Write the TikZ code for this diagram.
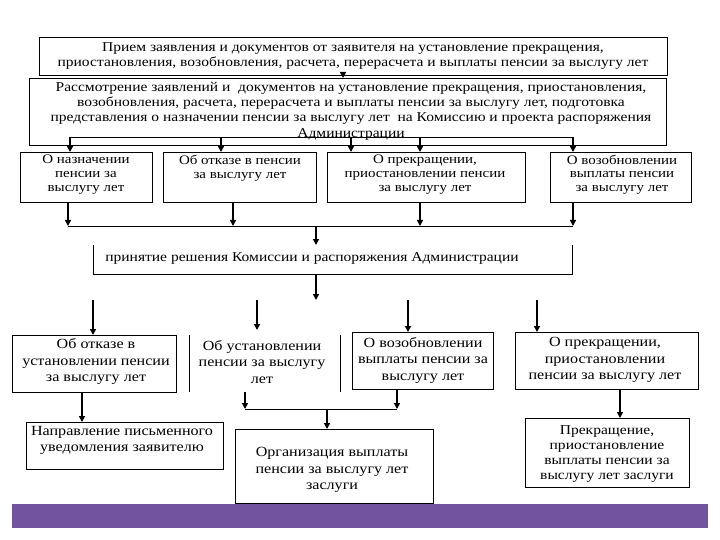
\documentclass[tikz,border=0pt]{standalone}
\usepackage{fontspec}
\setmainfont{Liberation Serif}[FakeStretch=1.15]
\usetikzlibrary{arrows.meta}
\definecolor{barpurple}{RGB}{113,83,160}
\begin{document}
\begin{tikzpicture}[x=1pt,y=-1pt,
  box/.style={draw, line width=0.9pt, inner sep=0pt, anchor=north west},
  txt/.style={align=center, inner sep=0pt, font=\fontsize{13.5}{15.3}\selectfont},
  txtb/.style={align=center, inner sep=0pt, font=\fontsize{13}{13.6}\selectfont},
  txtc/.style={align=center, inner sep=0pt, font=\fontsize{14}{16.5}\selectfont},
  arr/.style={line width=1.5pt, -{Triangle[length=6pt,width=6pt]}},
  ln/.style={line width=0.9pt}]
\path[use as bounding box] (0,0) rectangle (720,540);
\fill[white] (0,0) rectangle (720,540);

% top boxes
\node[box, minimum width=628pt, minimum height=38pt] (b1) at (39,37) {};
\node[txt] (t1) at (353,56) {Прием заявления и документов от заявителя на установление прекращения,\\приостановления, возобновления, расчета, перерасчета и выплаты пенсии за выслугу лет};
\node[box, minimum width=637pt, minimum height=67pt] (b2) at (29,78) {};
\node[txt] (t2) at (351,111) {Рассмотрение заявлений и \ документов на установление прекращения, приостановления,\\возобновления, расчета, перерасчета и выплаты пенсии за выслугу лет, подготовка\\представления о назначении пенсии за выслугу лет \ на Комиссию и проекта распоряжения\\Администрации};
\coordinate (a12) at (343,75);
\draw[arr] (a12) -- (a12 |- b2.north);

% bus inside box 2
\coordinate (s1) at (70,137);
\coordinate (s2) at (221,137);
\coordinate (s3) at (351,137);
\coordinate (s4) at (420,137);
\coordinate (s5) at (573,137);
\draw[ln] (s1) -- (s5);

% row 2
\node[box, minimum width=132pt, minimum height=50pt] (rA) at (20,152) {};
\node[box, minimum width=153pt, minimum height=50pt] (rB) at (163,152) {};
\node[box, minimum width=198pt, minimum height=50pt] (rC) at (327,152) {};
\node[box, minimum width=141pt, minimum height=50pt] (rD) at (550,152) {};
\node[txtb] (tA) at (86,174.5) {О назначении\\пенсии за\\выслугу лет};
\node[txtb] (tB) at (240,168) {Об отказе в пенсии\\за выслугу лет};
\node[txtb] (tC) at (425,174.5) {О прекращении,\\приостановлении пенсии\\за выслугу лет};
\node[txtb] (tD) at (622,174.5) {О возобновлении\\выплаты пенсии\\за выслугу лет};
\draw[arr] (s1) -- (s1 |- rA.north);
\draw[arr] (s2) -- (s2 |- rB.north);
\draw[arr] (s3) -- (s3 |- rC.north);
\draw[arr] (s4) -- (s4 |- rC.north);
\draw[arr] (s5) -- (s5 |- rD.north);

% bus below row 2
\coordinate (u1) at (68,226);
\coordinate (u2) at (233,226);
\coordinate (u3) at (420,226);
\coordinate (u4) at (573,226);
\coordinate (um) at (316,226);
\draw[ln] (u1) -- (u4);
\draw[arr] (u1 |- rA.south) -- (u1);
\draw[arr] (u2 |- rB.south) -- (u2);
\draw[arr] (u3 |- rC.south) -- (u3);
\draw[arr] (u4 |- rD.south) -- (u4);

% decision (open-top box)
\coordinate (mTL) at (93,245);
\coordinate (mBL) at (93,274);
\coordinate (mBR) at (572,274);
\coordinate (mTR) at (572,245);
\draw[ln] (mTL) -- (mBL) -- (mBR) -- (mTR);
\node[txt] (tM) at (312,258) {принятие решения Комиссии и распоряжения Администрации};
\draw[arr] (um) -- (um |- mTL);
\coordinate (mOut) at (316,300);
\draw[arr] (mOut |- mBL) -- (mOut);

% row 3
\node[box, minimum width=164pt, minimum height=57pt] (rE) at (12,335) {};
\coordinate (fTL) at (189,335);
\coordinate (fBL) at (189,392);
\coordinate (fTR) at (340,335);
\coordinate (fBR) at (340,392);
\draw[ln] (fTL) -- (fBL);
\draw[ln] (fTR) -- (fBR);
\node[box, minimum width=141pt, minimum height=57pt] (rG) at (352,332) {};
\node[box, minimum width=183pt, minimum height=57pt] (rH) at (515,332) {};
\node[txtc] (tE) at (96,361.5) {Об отказе в\\установлении пенсии\\за выслугу лет};
\node[txtc] (tF) at (262,362) {Об установлении\\пенсии за выслугу\\лет};
\node[txtc] (tG) at (423,360) {О возобновлении\\выплаты пенсии за\\выслугу лет};
\node[txtc] (tH) at (605,360) {О прекращении,\\приостановлении\\пенсии за выслугу лет};
\coordinate (d1) at (93,300);
\coordinate (d2) at (257,300);
\coordinate (d3) at (408,300);
\coordinate (d4) at (537,300);
\draw[arr] (d1) -- (d1 |- rE.north);
\draw[arr] (d2) -- (257,330);
\draw[arr] (d3) -- (d3 |- rG.north);
\draw[arr] (d4) -- (d4 |- rH.north);

% row 4
\node[box, minimum width=197pt, minimum height=47pt] (rI) at (26,422) {};
\node[box, minimum width=198pt, minimum height=74pt] (rJ) at (235,429) {};
\node[box, minimum width=164pt, minimum height=69pt] (rK) at (525,418) {};
\node[txtc] (tI) at (122,440.5) {Направление письменного\\уведомления заявителю};
\node[txtc] (tJ) at (332,470) {Организация выплаты\\пенсии за выслугу лет\\заслуги};
\node[txt] (tK) at (607,454) {Прекращение,\\приостановление\\выплаты пенсии за\\выслугу лет заслуги};
\coordinate (e1) at (82,392);
\draw[arr] (e1) -- (e1 |- rI.north);
\coordinate (jL) at (245,409);
\coordinate (jR) at (397,409);
\coordinate (jM) at (327,409);
\draw[ln] (jL) -- (jR);
\draw[arr] (jL |- fBL) -- (jL);
\draw[arr] (jR |- rG.south) -- (jR);
\draw[arr] (jM) -- (jM |- rJ.north);
\coordinate (kIn) at (620,410);
\draw[arr] (kIn |- rH.south) -- (kIn |- rK.north);

% bottom bar
\fill[barpurple] (12,504) rectangle (708,528);
\end{tikzpicture}
\end{document}
